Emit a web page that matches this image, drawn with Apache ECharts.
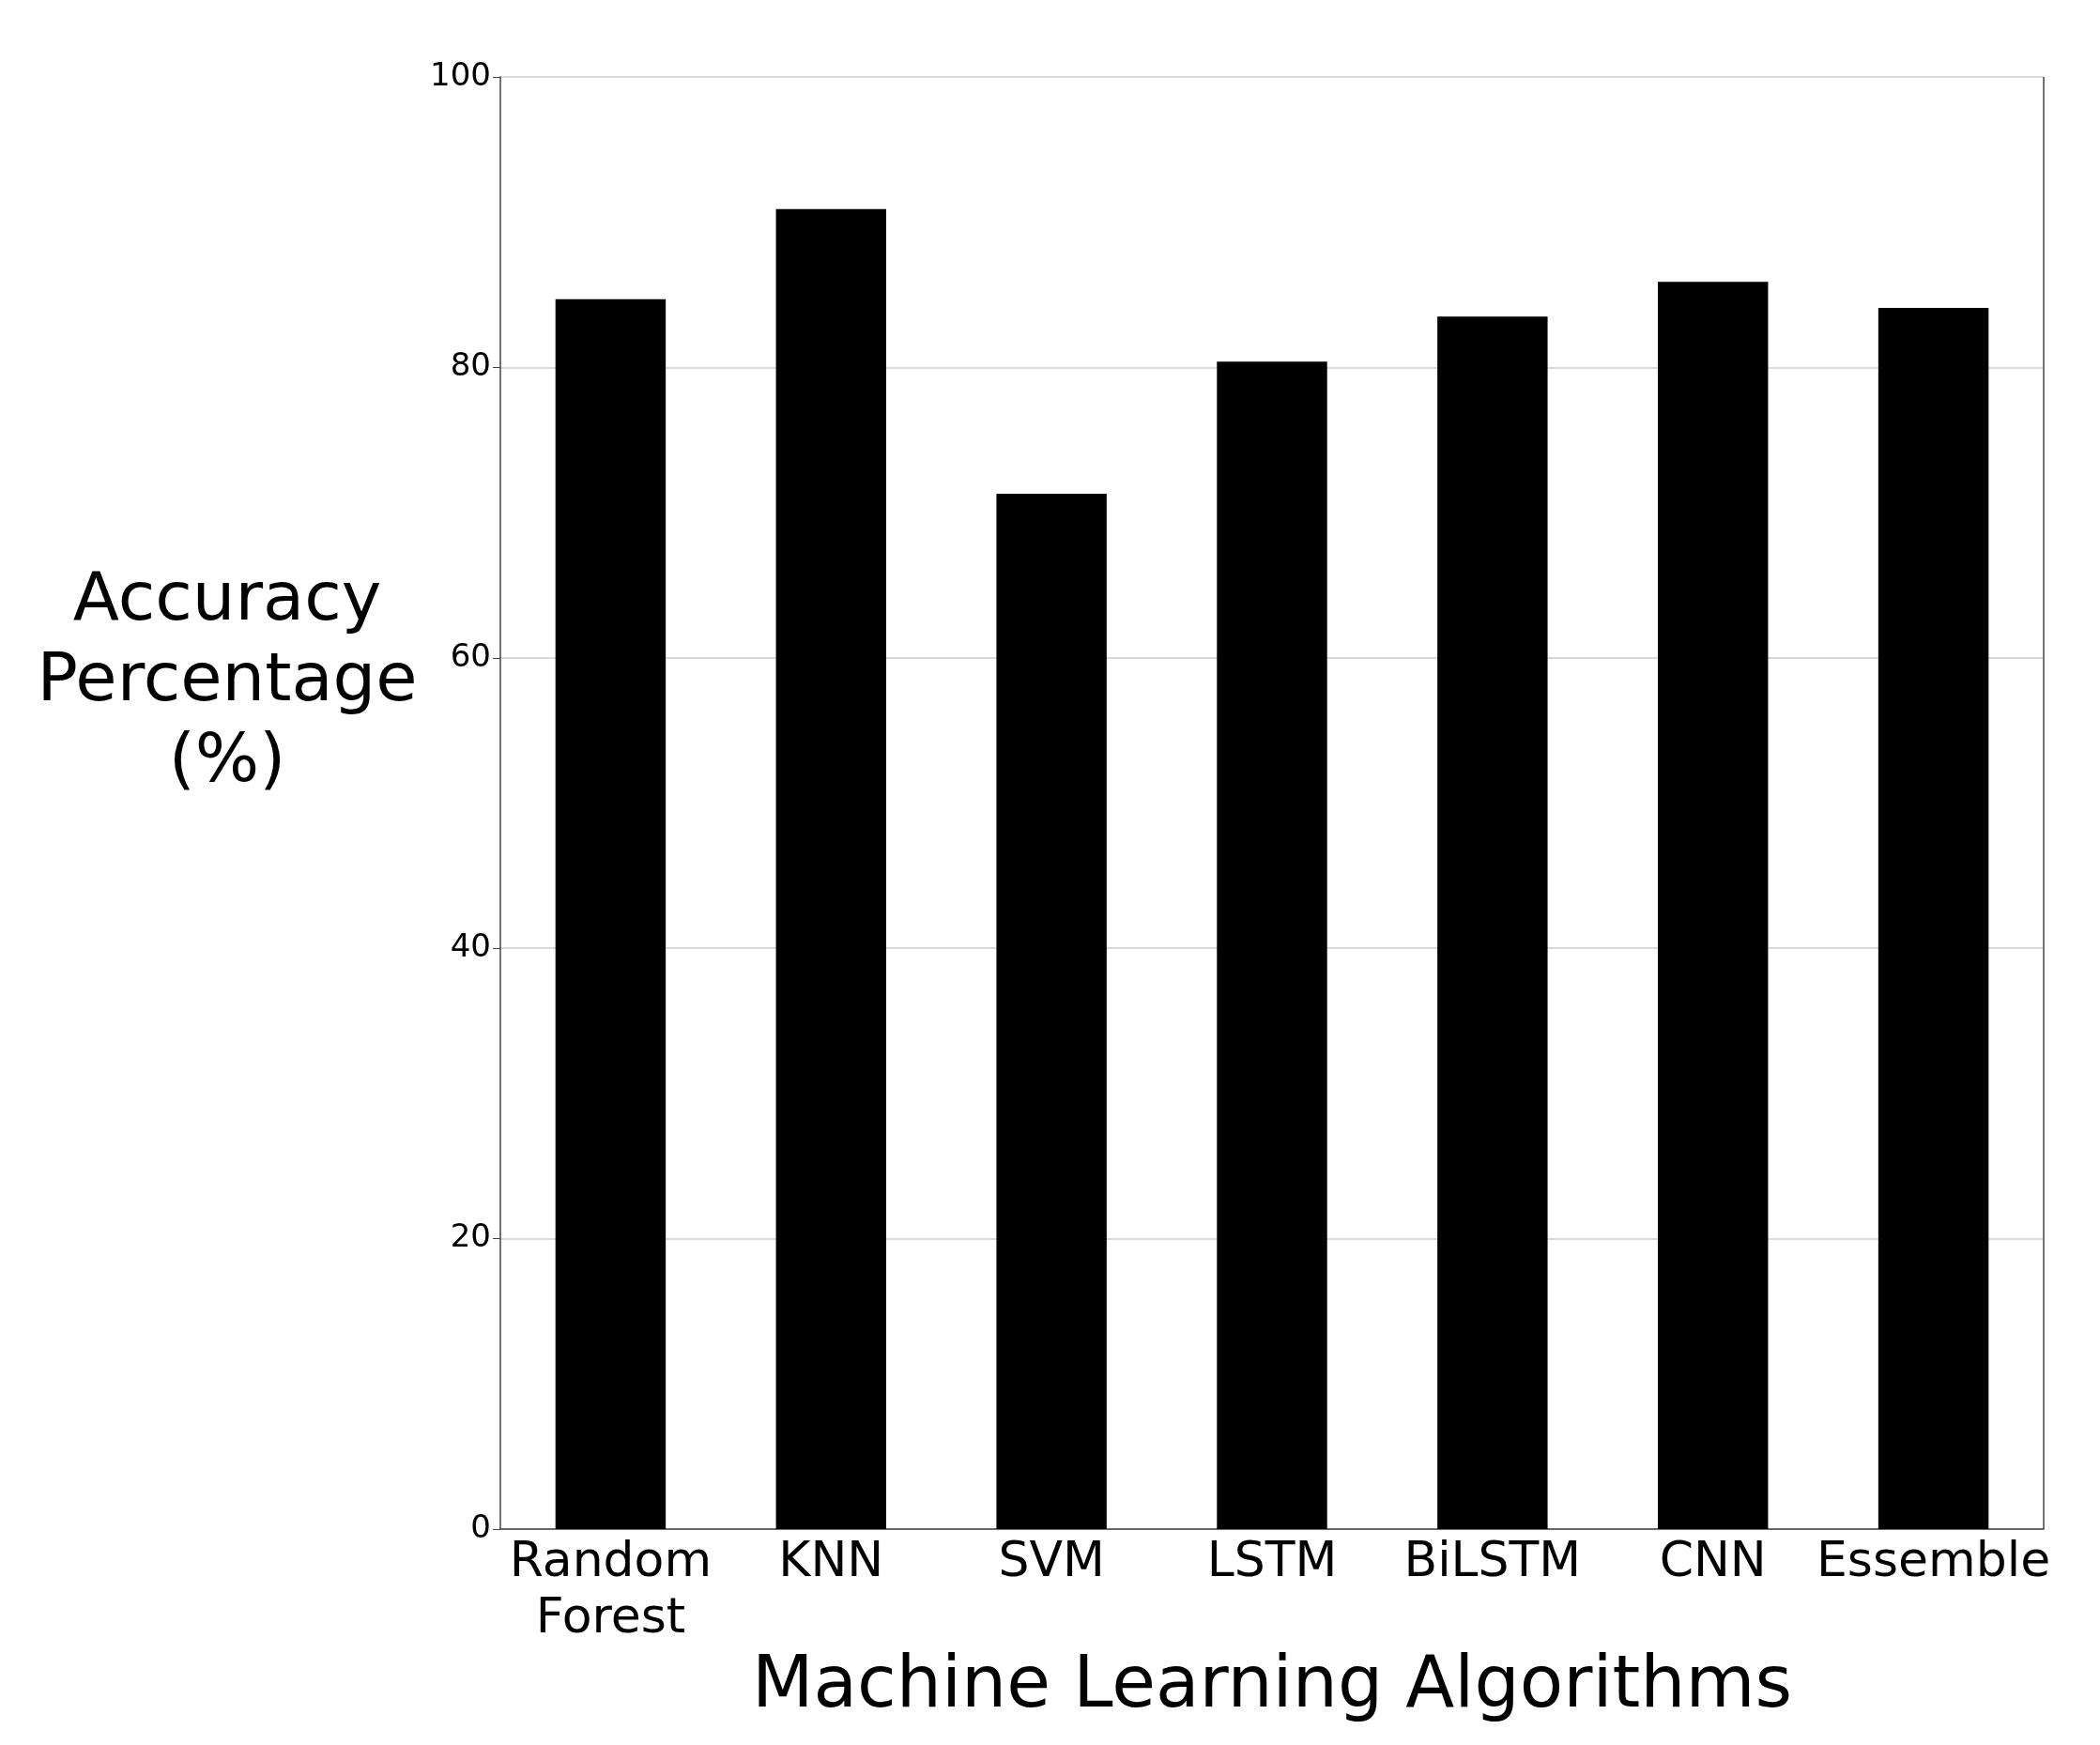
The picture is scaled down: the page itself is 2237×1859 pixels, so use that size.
<!DOCTYPE html>
<html><head><meta charset="utf-8">
<script src="https://cdn.jsdelivr.net/npm/echarts@6/dist/echarts.min.js"></script>
<style>html,body{margin:0;padding:0;background:#fff}#c{width:2237px;height:1859px}</style>
</head><body><div id="c"></div>
<script>
const categories = ['Random\nForest','KNN','SVM','LSTM','BiLSTM','CNN','Essemble'];
const accuracy = [84.7, 90.9, 71.3, 80.4, 83.5, 85.9, 84.1];
const yTicks = [0,20,40,60,80,100];
const font = 'DejaVu Sans';
const chart = echarts.init(document.getElementById('c'));
chart.setOption({
  animation:false,
  grid:{left:533,right:60,top:82,bottom:230,containLabel:false},
  graphic:[{type:'text',left:'center',style:{}} ].slice(0,0).concat([
    {type:'text',x:242,y:727,style:{text:'Accuracy\nPercentage\n(%)',font:'72px "DejaVu Sans"',fill:'#000',align:'center',verticalAlign:'middle',lineHeight:86}}
  ]),
  xAxis:{type:'category',data:categories,
    name:'Machine Learning Algorithms',nameLocation:'middle',nameGap:130,
    nameTextStyle:{fontFamily:font,fontSize:76,color:'#000'},
    axisLine:{lineStyle:{color:'#444',width:1.5}},axisTick:{show:false},
    axisLabel:{fontFamily:font,fontSize:52,color:'#000',margin:6,lineHeight:60,interval:0},
    splitLine:{show:false}},
  yAxis:{type:'value',min:0,max:100,interval:20,
    axisLine:{show:true,lineStyle:{color:'#444',width:1.5}},
    axisTick:{show:true,length:8,lineStyle:{color:'#444'}},
    axisLabel:{fontFamily:font,fontSize:34,color:'#000',margin:10,
      formatter:v=>yTicks.includes(v)?String(v):''},
    splitLine:{show:true,lineStyle:{color:'#ccc',width:1.5}}},
  series:[{type:'bar',data:accuracy,barCategoryGap:'50%',itemStyle:{color:'#000'}},
    {type:'line',data:[],markLine:{silent:true,symbol:'none',label:{show:false},lineStyle:{color:'#444',width:1.5,type:'solid'},
      data:[[{xAxis:6,yAxis:100,x:2177,y:82},{x:2177,y:1629}]]}}]
});
</script></body></html>
